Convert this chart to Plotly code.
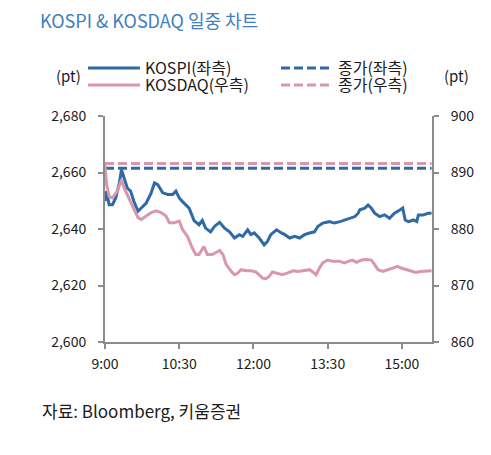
import plotly.graph_objects as go

# minutes after 9:00 and index levels
kospi_min = [0, 2, 5, 9, 13, 17, 20, 23, 27, 31, 35, 40, 44, 50, 56, 60, 64, 70, 76, 82,
             86, 90, 94, 102, 108, 114, 118, 122, 128, 133, 139, 145, 151, 157, 163, 167,
             173, 177, 181, 187, 193, 197, 201, 208, 214, 218, 224, 230, 236, 242, 248,
             254, 258, 264, 272, 278, 285, 291, 297, 303, 307, 309, 315, 319, 323, 327,
             333, 339, 345, 351, 358, 361, 364, 368, 374, 378, 380, 386, 392, 396]
kospi = [2649.8, 2653.4, 2648.6, 2648.6, 2651.0, 2655.7, 2661.0, 2658.0, 2654.5, 2653.4,
         2649.8, 2646.3, 2647.5, 2649.2, 2652.8, 2656.3, 2655.7, 2652.8, 2652.2, 2652.2,
         2653.4, 2651.0, 2649.7, 2647.4, 2643.0, 2641.5, 2643.0, 2640.3, 2639.0, 2641.0,
         2642.4, 2640.3, 2639.0, 2636.8, 2638.0, 2637.4, 2639.7, 2638.0, 2638.6, 2636.8,
         2634.4, 2635.6, 2638.0, 2639.7, 2638.6, 2638.0, 2636.8, 2637.4, 2636.8, 2638.0,
         2638.6, 2639.0, 2640.9, 2642.1, 2642.6, 2642.1, 2642.6, 2643.2, 2643.8, 2644.4,
         2645.6, 2646.8, 2647.4, 2648.5, 2647.4, 2645.6, 2644.4, 2645.0, 2643.8, 2645.6,
         2646.8, 2647.4, 2643.2, 2642.6, 2643.2, 2642.6, 2645.0, 2645.0, 2645.6, 2645.6]

kosdaq_min = [0, 2, 5, 9, 15, 20, 23, 29, 35, 40, 44, 50, 56, 62, 68, 74, 78, 84, 90, 94,
              100, 106, 110, 114, 118, 120, 124, 130, 134, 139, 143, 147, 153, 157, 161,
              165, 171, 177, 183, 187, 191, 195, 199, 203, 209, 215, 221, 228, 234, 240,
              248, 252, 256, 260, 264, 270, 276, 284, 290, 296, 300, 305, 311, 317, 323,
              327, 331, 337, 343, 349, 355, 359, 365, 371, 377, 383, 390, 396]
kosdaq = [891.4, 887.8, 885.8, 885.5, 886.7, 888.7, 887.3, 885.5, 883.7, 882.0, 881.7,
          882.3, 882.9, 883.2, 882.9, 882.3, 881.1, 881.1, 881.4, 879.9, 878.7, 876.6,
          875.5, 875.5, 876.3, 876.9, 875.5, 875.5, 875.8, 876.2, 875.5, 873.7, 872.5,
          871.9, 872.2, 872.8, 872.6, 872.6, 872.4, 871.9, 871.3, 871.2, 871.6, 872.4,
          872.2, 871.9, 872.2, 872.6, 872.5, 872.6, 872.8, 872.4, 871.9, 873.1, 874.0,
          874.5, 874.3, 874.3, 874.0, 874.3, 874.5, 874.1, 874.5, 874.6, 874.5, 873.7,
          872.8, 872.5, 872.8, 873.1, 873.4, 873.1, 872.8, 872.6, 872.3, 872.5, 872.5,
          872.6]

# previous closes (dashed lines)
close_min = [0, 396]
kospi_close = [2661.5, 2661.5]
kosdaq_close = [891.6, 891.6]

tick_min = [0, 90, 180, 270, 360]
tick_text = ['9:00', '10:30', '12:00', '13:30', '15:00']

BLUE = '#2f6aa6'
PINK = '#d897ac'
FONT = 'Noto Sans CJK KR'
TXT = '#1b1b1b'

# the page body adds 8px around the figure
W, H = 483, 447
L, T = 97, 108
PW, PH = 327, 226


def px_x(x):
    return (x - 8 - L) / PW


def px_y(y):
    return 1 - (y - 8 - T) / PH


fig = go.Figure()

fig.add_trace(go.Scatter(x=kospi_min, y=kospi, name='KOSPI(좌측)', mode='lines',
                         line=dict(color=BLUE, width=3), legend='legend'))
fig.add_trace(go.Scatter(x=kosdaq_min, y=kosdaq, name='KOSDAQ(우측)', mode='lines',
                         line=dict(color=PINK, width=3), yaxis='y2', legend='legend2'))
fig.add_trace(go.Scatter(x=close_min, y=kospi_close, name='종가(좌측)', mode='lines',
                         line=dict(color=BLUE, width=3, dash='9px,4px'), legend='legend3'))
fig.add_trace(go.Scatter(x=close_min, y=kosdaq_close, name='종가(우측)', mode='lines',
                         line=dict(color=PINK, width=3, dash='9px,4px'), yaxis='y2',
                         legend='legend4'))

axis_common = dict(showgrid=False, zeroline=False, showline=True, linecolor='#8c8c8c',
                   linewidth=2, ticks='outside', ticklen=5, tickcolor='#8c8c8c',
                   tickwidth=2, tickfont=dict(family=FONT, size=14, color=TXT))

legend_common = dict(orientation='v', bgcolor='rgba(0,0,0,0)',
                     font=dict(family=FONT, size=16, color=TXT),
                     xanchor='left', yanchor='top', itemwidth=52)

fig.update_layout(
    width=W, height=H,
    margin=dict(l=L, r=W - L - PW, t=T, b=H - T - PH),
    paper_bgcolor='white', plot_bgcolor='white',
    font=dict(family=FONT, color=TXT),
    showlegend=True,
    title=dict(text='KOSPI & KOSDAQ 일중 차트', x=32 / W, xanchor='left',
               y=1 - 14 / H, yanchor='middle',
               font=dict(family=FONT, size=18, color='#3f7fbf')),
    xaxis=dict(range=[0, 396.5], tickvals=tick_min, ticktext=tick_text,
               ticklabelstandoff=3, **axis_common),
    yaxis=dict(range=[2600, 2680], dtick=20, tickformat=',', ticklabelstandoff=9,
               **axis_common),
    yaxis2=dict(range=[860, 900], dtick=10, overlaying='y', side='right',
                ticklabelstandoff=9, **axis_common),
    legend=dict(x=px_x(83), y=px_y(51), **legend_common),
    legend2=dict(x=px_x(83), y=px_y(68), **legend_common),
    legend3=dict(x=px_x(276), y=px_y(51), **legend_common),
    legend4=dict(x=px_x(276), y=px_y(68), **legend_common),
    annotations=[
        dict(text='(pt)', x=px_x(68), y=px_y(76), xanchor='center', font=dict(size=15)),
        dict(text='(pt)', x=px_x(456), y=px_y(76), xanchor='center', font=dict(size=15)),
        dict(text='자료: Bloomberg, 키움증권', x=px_x(40), y=px_y(410), xanchor='left',
             font=dict(size=17)),
    ],
)

for a in fig.layout.annotations:
    a.xref = 'paper'
    a.yref = 'paper'
    a.showarrow = False
    a.yanchor = 'middle'
    a.font.family = FONT
    a.font.color = TXT

fig.write_html('out.html')
